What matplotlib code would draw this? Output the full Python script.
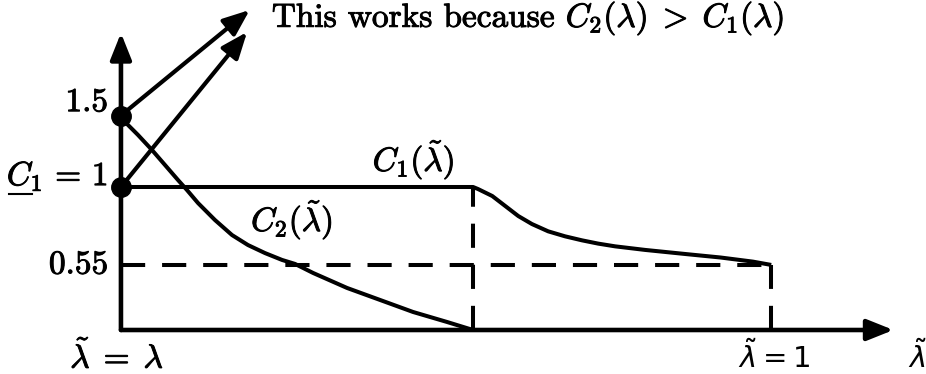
import matplotlib
matplotlib.use("Agg")
import matplotlib.pyplot as plt
import matplotlib.patheffects as pe

plt.rcParams["mathtext.fontset"] = "cm"

# schematic curves, in diagram units (lambda~ = lambda at 0, lambda~ = 1 at 1)
c1_x = [0.0, 0.5415, 0.549, 0.571, 0.591, 0.611, 0.632, 0.657, 0.683, 0.709, 0.734,
        0.760, 0.806, 0.871, 0.922, 0.972, 1.0]
c1_y = [1.0, 1.0, 0.986, 0.937, 0.867, 0.797, 0.741, 0.690, 0.655, 0.627, 0.604,
        0.585, 0.560, 0.530, 0.507, 0.478, 0.455]
c2_x = [0.0, 0.0062, 0.0262, 0.0477, 0.0677, 0.0877, 0.1015, 0.1185, 0.1446, 0.1708,
        0.1954, 0.2215, 0.2477, 0.2677, 0.2954, 0.3477, 0.3985, 0.4492, 0.5015, 0.5415]
c2_y = [1.5, 1.455, 1.364, 1.259, 1.154, 1.049, 0.979, 0.888, 0.769, 0.664,
        0.594, 0.538, 0.490, 0.462, 0.399, 0.294, 0.210, 0.126, 0.056, 0.0]

x_break = 0.5415
x_end = 1.0
level_low = 0.455          # drawn height of the "0.55" level
dot_y = [1.5, 1.0]
arrow_tips = [(0.198, 2.238), (0.194, 2.084)]
ytick_labels = ["1.5", r"$C_1\,=\,1$", "0.55"]

fig = plt.figure(figsize=(9.26, 3.74), dpi=100)
ax = fig.add_axes([0, 0, 1, 1])
ax.set_xlim(-0.186, 1.238)
ax.set_ylim(-0.3077, 2.3077)
ax.axis("off")

lw = 2.9
dash = (6, 4.2)
bold = [pe.withStroke(linewidth=0.7, foreground="black")]

# axes with arrow heads
head = dict(arrowstyle="-|>,head_length=0.8,head_width=0.32", mutation_scale=20,
            color="black", lw=3.3, shrinkA=0, shrinkB=0)
ax.annotate("", xy=(0, 2.077), xytext=(0, 0), arrowprops=head)
ax.annotate("", xy=(1.188, 0), xytext=(0, 0), arrowprops=head)

# curves
ax.plot(c1_x, c1_y, color="black", lw=lw, solid_capstyle="butt", solid_joinstyle="round")
ax.plot(c2_x, c2_y, color="black", lw=lw, solid_capstyle="butt", solid_joinstyle="round")

# dashed guides
ax.plot([0, x_end], [level_low, level_low], color="black", lw=lw, dashes=dash)
ax.plot([x_break, x_break], [0, 1.0], color="black", lw=lw, dashes=dash)
ax.plot([x_end, x_end], [0, level_low], color="black", lw=lw, dashes=dash)

# arrows from the starting points
arr = dict(arrowstyle="-|>,head_length=0.8,head_width=0.32", mutation_scale=20,
           color="black", lw=3.0, shrinkA=0, shrinkB=0)
for y0, tip in zip(dot_y, arrow_tips):
    ax.annotate("", xy=tip, xytext=(0, y0), arrowprops=arr)
ax.plot([0, 0], dot_y, "o", color="black", ms=14, zorder=5)

# labels
fs = 24
ax.text(-0.02, 1.5 + 0.09, ytick_labels[0], family="cmr10", fontsize=fs, ha="right",
        va="center", path_effects=bold)
ax.text(-0.02, 1.0 + 0.08, ytick_labels[1], fontsize=fs, ha="right", va="center",
        path_effects=bold)
ax.plot([-0.172, -0.137], [0.952, 0.952], color="black", lw=1.5)   # underline of C
ax.text(-0.02, level_low, ytick_labels[2], family="cmr10", fontsize=fs, ha="right",
        va="center", path_effects=bold)
ax.text(-0.006, -0.19, r"$\tilde{\lambda}\;=\;\lambda$", fontsize=fs, ha="center",
        va="center", path_effects=bold)
ax.text(1.005, -0.19, r"$\tilde{\lambda} = 1$", fontsize=21, ha="center", va="center",
        math_fontfamily="dejavusans")
ax.text(1.225, -0.19, r"$\tilde{\lambda}$", fontsize=21, ha="center", va="center",
        math_fontfamily="dejavusans")
ax.text(0.45, 1.19, r"$C_1(\tilde{\lambda})$", fontsize=fs, ha="center", va="center",
        path_effects=bold)
ax.text(0.263, 0.77, r"$C_2(\tilde{\lambda})$", fontsize=fs, ha="center", va="center",
        path_effects=bold)
ax.text(0.232, 2.18, r"This works because $C_2(\lambda)\;>\;C_1(\lambda)$", family="cmr10",
        fontsize=fs, ha="left", va="center", path_effects=bold)

fig.savefig("out.png", dpi=100)
